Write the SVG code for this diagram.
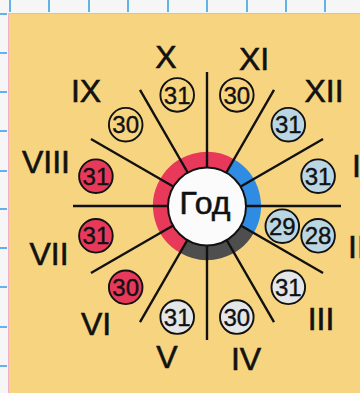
<svg xmlns="http://www.w3.org/2000/svg" width="360" height="393" viewBox="0 0 360 393">
<style>
.num{font-family:"Liberation Sans",Arial,sans-serif;font-size:32px;fill:#111;stroke:#111;stroke-width:0.6;}
.d{font-family:"Liberation Sans",Arial,sans-serif;font-size:24px;fill:#111;stroke:#111;stroke-width:0.4;text-anchor:middle;}
.c{stroke:#111;stroke-width:1.9;}
.y{fill:none;}
.r{fill:#E8395B;}
.b{fill:#B9D6E2;}
.g{fill:#E4E6E8;}
.tick{stroke:#3EA2E6;stroke-width:1.6;}
.ray{stroke:#111;stroke-width:2.4;}
</style>
<rect x="0" y="0" width="360" height="393" fill="#F6F6F6"/>
<g id="grid">
<line class="tick" x1="10" y1="0" x2="10" y2="12"/>
<line class="tick" x1="49" y1="0" x2="49" y2="12"/>
<line class="tick" x1="89" y1="0" x2="89" y2="12"/>
<line class="tick" x1="128" y1="0" x2="128" y2="12"/>
<line class="tick" x1="168" y1="0" x2="168" y2="12"/>
<line class="tick" x1="207" y1="0" x2="207" y2="12"/>
<line class="tick" x1="247" y1="0" x2="247" y2="12"/>
<line class="tick" x1="286" y1="0" x2="286" y2="12"/>
<line class="tick" x1="325" y1="0" x2="325" y2="12"/>
<line class="tick" x1="0" y1="14" x2="7" y2="14"/>
<line class="tick" x1="0" y1="53" x2="7" y2="53"/>
<line class="tick" x1="0" y1="92" x2="7" y2="92"/>
<line class="tick" x1="0" y1="131" x2="7" y2="131"/>
<line class="tick" x1="0" y1="171" x2="7" y2="171"/>
<line class="tick" x1="0" y1="209" x2="7" y2="209"/>
<line class="tick" x1="0" y1="248" x2="7" y2="248"/>
<line class="tick" x1="0" y1="287" x2="7" y2="287"/>
<line class="tick" x1="0" y1="327" x2="7" y2="327"/>
<line class="tick" x1="0" y1="366" x2="7" y2="366"/>
</g>
<rect x="8" y="13" width="352" height="380" fill="#F7D47F"/>
<path d="M8.5 393V13.5H360" fill="none" stroke="#F2AFC9" stroke-width="1"/>
<g id="ring" fill="none" stroke-width="15">
<path d="M230.25 165.73A46.5 46.5 0 0 1 247.27 229.25" stroke="#2F8CE2"/>
<path d="M247.27 229.25A46.5 46.5 0 0 1 183.75 246.27" stroke="#4E4E4E"/>
<path d="M183.75 246.27A46.5 46.5 0 0 1 166.73 182.75A46.5 46.5 0 0 1 230.25 165.73" stroke="#E8395B"/>
</g>
<g id="connectors">
<line class="ray" x1="207" y1="206" x2="207" y2="72"/>
<line class="ray" x1="207" y1="206" x2="274" y2="89.95"/>
<line class="ray" x1="207" y1="206" x2="323.05" y2="139"/>
<line class="ray" x1="207" y1="206" x2="341" y2="206"/>
<line class="ray" x1="207" y1="206" x2="323.05" y2="273"/>
<line class="ray" x1="207" y1="206" x2="274" y2="322.05"/>
<line class="ray" x1="207" y1="206" x2="207" y2="340"/>
<line class="ray" x1="207" y1="206" x2="140" y2="322.05"/>
<line class="ray" x1="207" y1="206" x2="90.95" y2="273"/>
<line class="ray" x1="207" y1="206" x2="73" y2="206"/>
<line class="ray" x1="207" y1="206" x2="90.95" y2="139"/>
<line class="ray" x1="207" y1="206" x2="140" y2="89.95"/>
</g>
<g id="year">
<circle cx="207" cy="206.5" r="39" fill="#FBFBFB" stroke="#111" stroke-width="2"/>
<text x="205" y="214" font-family="'Liberation Sans',Arial,sans-serif" font-size="32" fill="#111" stroke="#111" stroke-width="0.6" text-anchor="middle">Год</text>
</g>
<g id="m1"><text class="num" x="352" y="177">I</text><circle class="c b" cx="318.1" cy="176.2" r="16.8"/><text class="d" x="318.1" y="184.8">31</text></g>
<g id="m2"><text class="num" x="348" y="258">II</text><circle class="c b" cx="282.3" cy="226.2" r="16.8"/><text class="d" x="282.3" y="234.8">29</text><circle class="c b" cx="318.1" cy="235.8" r="16.8"/><text class="d" x="318.1" y="244.4">28</text></g>
<g id="m3"><text class="num" x="321" y="330" text-anchor="middle">III</text><circle class="c g" cx="288.3" cy="287.3" r="16.8"/><text class="d" x="288.3" y="295.9">31</text></g>
<g id="m4"><text class="num" x="246" y="370" text-anchor="middle">IV</text><circle class="c g" cx="236.8" cy="317.1" r="16.8"/><text class="d" x="236.8" y="325.7">30</text></g>
<g id="m5"><text class="num" x="167" y="368" text-anchor="middle">V</text><circle class="c g" cx="177.2" cy="317.1" r="16.8"/><text class="d" x="177.2" y="325.7">31</text></g>
<g id="m6"><text class="num" x="96" y="335" text-anchor="middle">VI</text><circle class="c r" cx="125.7" cy="287.3" r="16.8"/><text class="d" x="125.7" y="295.9">30</text></g>
<g id="m7"><text class="num" x="49" y="265" text-anchor="middle">VII</text><circle class="c r" cx="95.9" cy="235.8" r="16.8"/><text class="d" x="95.9" y="244.4">31</text></g>
<g id="m8"><text class="num" x="46" y="173" text-anchor="middle">VIII</text><circle class="c r" cx="95.9" cy="176.2" r="16.8"/><text class="d" x="95.9" y="184.8">31</text></g>
<g id="m9"><text class="num" x="86" y="102" text-anchor="middle">IX</text><circle class="c y" cx="125.7" cy="124.7" r="16.8"/><text class="d" x="125.7" y="133.3">30</text></g>
<g id="m10"><text class="num" x="166" y="68" text-anchor="middle">X</text><circle class="c y" cx="177.2" cy="94.9" r="16.8"/><text class="d" x="177.2" y="103.5">31</text></g>
<g id="m11"><text class="num" x="254" y="70" text-anchor="middle">XI</text><circle class="c y" cx="236.8" cy="94.9" r="16.8"/><text class="d" x="236.8" y="103.5">30</text></g>
<g id="m12"><text class="num" x="324" y="102" text-anchor="middle">XII</text><circle class="c b" cx="288.3" cy="124.7" r="16.8"/><text class="d" x="288.3" y="133.3">31</text></g>
</svg>
